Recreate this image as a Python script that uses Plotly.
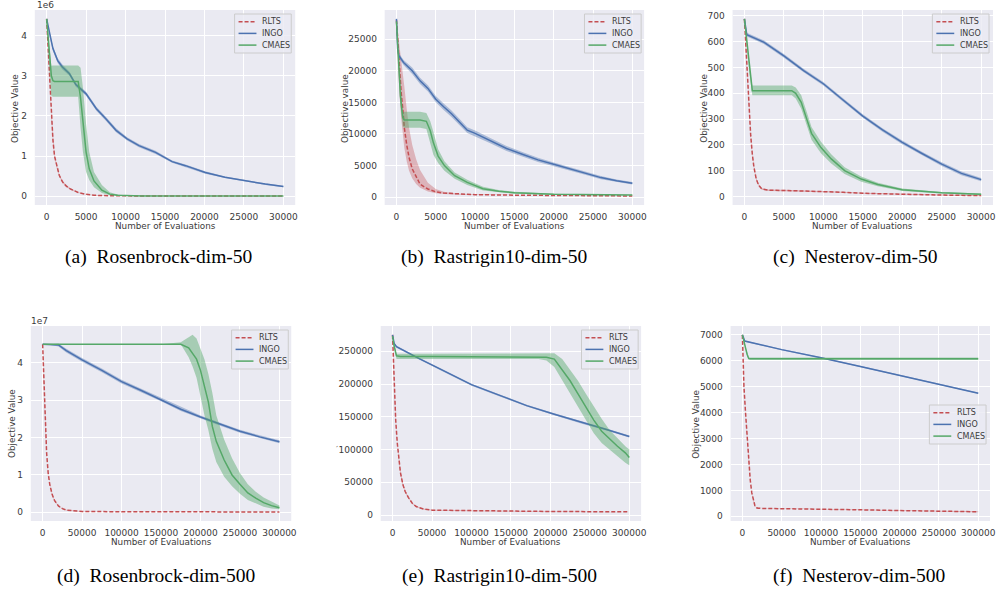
import plotly.graph_objects as go

W, H = 1000, 590
RED, BLUE, GREEN = "#C44E52", "#4C72B0", "#55A868"
NAMES = ["RLTS", "INGO", "CMAES"]

# ---------------- (a) Rosenbrock-dim-50 (values in 1e6) ----------------
A_RLTS_X = [0, 200, 400, 600, 800, 1000, 1300, 1600, 2000, 2500, 3000, 4000, 5000, 6000, 8000, 10000, 15000, 20000, 25000, 30000]
A_RLTS_Y = [4.42, 3.7, 2.95, 2.0, 1.4, 1.0, 0.72, 0.52, 0.36, 0.25, 0.18, 0.09, 0.045, 0.022, 0.008, 0.004, 0.002, 0.001, 0.001, 0.001]
A_RLTS_LO = [4.42, 3.6, 2.85, 1.92, 1.33, 0.95, 0.68, 0.49, 0.33, 0.23, 0.16, 0.08, 0.038, 0.018, 0.006, 0.003, 0.001, 0.0, 0.0, 0.0]
A_RLTS_HI = [4.42, 3.8, 3.05, 2.08, 1.47, 1.05, 0.77, 0.56, 0.39, 0.28, 0.20, 0.10, 0.052, 0.026, 0.010, 0.005, 0.003, 0.002, 0.002, 0.002]
A_INGO_X = [0, 400, 800, 1400, 2000, 2900, 3700, 5000, 6300, 7500, 8800, 10200, 11700, 13800, 15900, 17600, 20100, 22600, 25200, 27700, 30000]
A_INGO_Y = [4.42, 4.01, 3.68, 3.38, 3.22, 3.05, 2.78, 2.55, 2.18, 1.93, 1.64, 1.43, 1.26, 1.09, 0.86, 0.76, 0.59, 0.47, 0.38, 0.30, 0.24]
A_INGO_LO = [4.42, 3.95, 3.62, 3.32, 3.16, 3.00, 2.73, 2.50, 2.13, 1.88, 1.59, 1.39, 1.22, 1.05, 0.83, 0.73, 0.56, 0.45, 0.36, 0.28, 0.22]
A_INGO_HI = [4.42, 4.07, 3.74, 3.44, 3.28, 3.10, 2.83, 2.60, 2.23, 1.98, 1.69, 1.47, 1.30, 1.13, 0.89, 0.79, 0.62, 0.49, 0.40, 0.32, 0.26]
A_CMA_X = [0, 300, 600, 800, 1000, 2000, 3000, 4000, 4300, 4600, 5000, 5400, 6000, 7000, 8000, 9000, 10000, 12000, 15000, 20000, 30000]
A_CMA_Y = [4.42, 3.6, 3.0, 2.88, 2.86, 2.86, 2.86, 2.86, 2.45, 1.9, 1.1, 0.68, 0.38, 0.15, 0.05, 0.02, 0.01, 0.004, 0.002, 0.001, 0.001]
A_CMA_LO = [4.42, 3.3, 2.5, 2.48, 2.48, 2.48, 2.48, 2.48, 1.7, 1.1, 0.6, 0.4, 0.22, 0.08, 0.02, 0.008, 0.004, 0.002, 0.001, 0.0, 0.0]
A_CMA_HI = [4.42, 3.8, 3.25, 3.26, 3.26, 3.26, 3.26, 3.26, 3.2, 2.7, 1.8, 1.1, 0.6, 0.28, 0.1, 0.04, 0.02, 0.008, 0.004, 0.002, 0.002]

# ---------------- (b) Rastrigin10-dim-50 ----------------
B_RLTS_X = [0, 200, 400, 600, 800, 1000, 1300, 1600, 2000, 2500, 3000, 4000, 5000, 6000, 8000, 10000, 15000, 20000, 25000, 30000]
B_RLTS_Y = [28000, 23500, 19800, 16500, 14000, 11000, 8300, 6300, 4500, 3200, 2050, 1300, 850, 650, 480, 400, 320, 260, 220, 200]
B_RLTS_LO = [28000, 20500, 16000, 12500, 9800, 7800, 5700, 4200, 3000, 2100, 1500, 900, 620, 510, 400, 340, 280, 230, 190, 170]
B_RLTS_HI = [28000, 26000, 24000, 22000, 19800, 17500, 14000, 11000, 8300, 6000, 4300, 2300, 1300, 850, 560, 470, 360, 290, 250, 230]
B_INGO_X = [0, 150, 300, 900, 2000, 3000, 4000, 5000, 6000, 7000, 8000, 9000, 10000, 12000, 14000, 16000, 18000, 20000, 22000, 24000, 26000, 28000, 30000]
B_INGO_Y = [28200, 23500, 22400, 21300, 20000, 18400, 17200, 15500, 14300, 13200, 11900, 10600, 10100, 8900, 7700, 6800, 5900, 5200, 4500, 3800, 3100, 2600, 2200]
B_INGO_LO = [28200, 23100, 22000, 20900, 19500, 17900, 16700, 15000, 13800, 12700, 11400, 10150, 9650, 8500, 7300, 6450, 5550, 4900, 4200, 3550, 2850, 2400, 2000]
B_INGO_HI = [28200, 23900, 22800, 21700, 20500, 18900, 17700, 16000, 14800, 13700, 12400, 11050, 10550, 9300, 8100, 7150, 6250, 5500, 4800, 4050, 3350, 2800, 2400]
B_CMA_X = [0, 250, 500, 800, 1000, 2000, 3000, 3800, 4300, 4700, 5300, 6100, 7400, 9000, 11000, 13000, 15000, 20000, 25000, 30000]
B_CMA_Y = [27800, 21800, 16000, 12600, 12200, 12200, 12200, 12000, 10500, 8600, 6500, 5000, 3400, 2350, 1350, 950, 700, 450, 380, 350]
B_CMA_LO = [27800, 20500, 14500, 11200, 11000, 11000, 11000, 10800, 8500, 6700, 5400, 4200, 2900, 1950, 1050, 750, 550, 370, 320, 300]
B_CMA_HI = [27800, 23000, 17500, 13500, 13500, 13500, 13500, 13300, 12000, 10300, 7600, 5700, 3900, 2750, 1650, 1150, 850, 530, 440, 400]

# ---------------- (c) Nesterov-dim-50 ----------------
C_RLTS_X = [0, 200, 400, 600, 800, 1000, 1200, 1500, 1800, 2200, 3000, 5000, 7500, 10000, 12500, 15000, 20000, 25000, 30000]
C_RLTS_Y = [688, 560, 440, 340, 235, 165, 115, 68, 45, 30, 25, 24, 22, 20, 17, 13, 9, 6, 4]
C_RLTS_LO = [688, 552, 432, 332, 227, 158, 109, 63, 41, 27, 22, 21, 19, 18, 15, 11, 7, 4, 2]
C_RLTS_HI = [688, 568, 448, 348, 243, 172, 121, 73, 49, 33, 28, 27, 25, 22, 19, 15, 11, 8, 6]
C_INGO_X = [0, 300, 2500, 5000, 7500, 10000, 12500, 15000, 17500, 20000, 22500, 25000, 27500, 30000]
C_INGO_Y = [688, 627, 597, 545, 488, 437, 374, 312, 258, 210, 167, 126, 90, 66]
C_INGO_LO = [688, 620, 590, 538, 481, 430, 367, 305, 251, 203, 160, 119, 83, 60]
C_INGO_HI = [688, 634, 604, 552, 495, 444, 381, 319, 265, 217, 174, 133, 97, 72]
C_CMA_X = [0, 300, 600, 1000, 3000, 6000, 6500, 7200, 7900, 8500, 9700, 11000, 12700, 14800, 16900, 20000, 25000, 30000]
C_CMA_Y = [688, 600, 500, 410, 410, 410, 400, 365, 300, 245, 190, 146, 101, 68, 47, 27, 15, 9]
C_CMA_LO = [688, 585, 485, 392, 392, 392, 380, 340, 272, 220, 168, 128, 88, 58, 40, 22, 12, 6]
C_CMA_HI = [688, 615, 515, 430, 430, 430, 422, 392, 328, 270, 212, 164, 114, 78, 54, 32, 18, 12]

# ---------------- (d) Rosenbrock-dim-500 (values in 1e7) ----------------
D_RLTS_X = [0, 1000, 2000, 3000, 4000, 5000, 7000, 9000, 12000, 15000, 20000, 25000, 30000, 40000, 50000, 100000, 200000, 300000]
D_RLTS_Y = [4.5, 3.8, 3.1, 2.5, 2.0, 1.6, 1.05, 0.75, 0.48, 0.32, 0.17, 0.10, 0.06, 0.035, 0.025, 0.015, 0.01, 0.01]
D_RLTS_LO = [4.5, 3.75, 3.05, 2.45, 1.96, 1.56, 1.02, 0.72, 0.46, 0.30, 0.16, 0.09, 0.05, 0.03, 0.02, 0.01, 0.005, 0.005]
D_RLTS_HI = [4.5, 3.85, 3.15, 2.55, 2.04, 1.64, 1.08, 0.78, 0.50, 0.34, 0.18, 0.11, 0.07, 0.04, 0.03, 0.02, 0.015, 0.015]
D_INGO_X = [0, 10000, 20000, 30000, 50000, 75000, 100000, 125000, 150000, 175000, 200000, 225000, 250000, 275000, 300000]
D_INGO_Y = [4.5, 4.5, 4.48, 4.33, 4.08, 3.80, 3.50, 3.26, 3.02, 2.76, 2.55, 2.36, 2.17, 2.02, 1.89]
D_INGO_LO = [4.5, 4.48, 4.44, 4.28, 4.03, 3.75, 3.45, 3.21, 2.97, 2.71, 2.51, 2.32, 2.13, 1.98, 1.85]
D_INGO_HI = [4.5, 4.52, 4.52, 4.38, 4.13, 3.85, 3.55, 3.31, 3.07, 2.81, 2.59, 2.40, 2.21, 2.06, 1.93]
D_CMA_X = [0, 50000, 100000, 150000, 175000, 185000, 190000, 195000, 200000, 205000, 210000, 215000, 220000, 230000, 240000, 250000, 260000, 270000, 280000, 290000, 300000]
D_CMA_Y = [4.5, 4.5, 4.5, 4.5, 4.5, 4.4, 4.25, 4.1, 3.8, 3.4, 2.95, 2.3, 1.9, 1.4, 1.0, 0.75, 0.52, 0.38, 0.26, 0.18, 0.12]
D_CMA_LO = [4.5, 4.5, 4.5, 4.5, 4.5, 4.15, 3.9, 3.6, 3.1, 2.6, 2.2, 1.7, 1.35, 0.95, 0.7, 0.5, 0.33, 0.23, 0.15, 0.1, 0.08]
D_CMA_HI = [4.5, 4.5, 4.5, 4.5, 4.55, 4.68, 4.75, 4.65, 4.4, 4.1, 3.7, 3.2, 2.6, 1.95, 1.45, 1.05, 0.75, 0.55, 0.4, 0.28, 0.18]

# ---------------- (e) Rastrigin10-dim-500 ----------------
E_RLTS_X = [0, 1000, 2000, 3000, 4000, 6000, 8000, 10000, 13000, 16000, 20000, 25000, 30000, 40000, 50000, 100000, 200000, 300000]
E_RLTS_Y = [275000, 235000, 195000, 165000, 145000, 110000, 85000, 65000, 47000, 36000, 27000, 18000, 13000, 9000, 7500, 6500, 5500, 5000]
E_RLTS_LO = [275000, 232000, 191000, 161000, 141000, 106000, 81000, 62000, 44500, 34000, 25500, 17000, 12000, 8300, 6900, 6000, 5000, 4500]
E_RLTS_HI = [275000, 238000, 199000, 169000, 149000, 114000, 89000, 68000, 49500, 38000, 28500, 19000, 14000, 9700, 8100, 7000, 6000, 5500]
E_INGO_X = [0, 2000, 5000, 20000, 35000, 60000, 100000, 135000, 170000, 205000, 240000, 270000, 300000]
E_INGO_Y = [275000, 262000, 257000, 247000, 238000, 223000, 199000, 183000, 167000, 154000, 141000, 131000, 120000]
E_INGO_LO = [275000, 260500, 255500, 245500, 236500, 221500, 197500, 181500, 165500, 152500, 139500, 129500, 118500]
E_INGO_HI = [275000, 263500, 258500, 248500, 239500, 224500, 200500, 184500, 168500, 155500, 142500, 132500, 121500]
E_CMA_X = [0, 2000, 5000, 10000, 50000, 100000, 150000, 185000, 195000, 205000, 215000, 225000, 235000, 245000, 255000, 265000, 275000, 285000, 295000, 300000]
E_CMA_Y = [273000, 258000, 243000, 242000, 242000, 242000, 242000, 242000, 241000, 238000, 222000, 205000, 185000, 165000, 145000, 128000, 116000, 105000, 95000, 88000]
E_CMA_LO = [273000, 256000, 238000, 238000, 238000, 238000, 238000, 238000, 236000, 226000, 205000, 185000, 165000, 145000, 125000, 110000, 100000, 90000, 80000, 76000]
E_CMA_HI = [273000, 260000, 246000, 246000, 246000, 246000, 246000, 246000, 246000, 247000, 238000, 222000, 205000, 185000, 165000, 147000, 130000, 117000, 105000, 100000]

# ---------------- (f) Nesterov-dim-500 ----------------
F_RLTS_X = [0, 2000, 4000, 6000, 8000, 10000, 12000, 14000, 16000, 18000, 20000, 30000, 50000, 100000, 150000, 200000, 250000, 300000]
F_RLTS_Y = [7000, 5000, 4000, 3000, 2100, 1400, 900, 580, 400, 330, 310, 300, 295, 280, 250, 220, 200, 175]
F_RLTS_LO = [7000, 4950, 3950, 2950, 2060, 1370, 875, 560, 385, 315, 295, 285, 280, 265, 235, 205, 185, 160]
F_RLTS_HI = [7000, 5050, 4050, 3050, 2140, 1430, 925, 600, 415, 345, 325, 315, 310, 295, 265, 235, 215, 190]
F_INGO_X = [0, 3000, 50000, 100000, 150000, 200000, 250000, 300000]
F_INGO_Y = [7000, 6760, 6430, 6120, 5780, 5430, 5090, 4750]
F_INGO_LO = [7000, 6735, 6405, 6095, 5755, 5405, 5065, 4725]
F_INGO_HI = [7000, 6785, 6455, 6145, 5805, 5455, 5115, 4775]
F_CMA_X = [0, 2000, 4000, 6000, 8000, 10000, 50000, 100000, 200000, 300000]
F_CMA_Y = [7000, 6800, 6500, 6250, 6090, 6080, 6080, 6080, 6080, 6080]
F_CMA_LO = [7000, 6770, 6460, 6200, 6040, 6030, 6030, 6030, 6030, 6030]
F_CMA_HI = [7000, 6830, 6540, 6300, 6140, 6130, 6130, 6130, 6130, 6130]

TOP_XTICKS = [0, 5000, 10000, 15000, 20000, 25000, 30000]
BOT_XTICKS = [0, 50000, 100000, 150000, 200000, 250000, 300000]
A_YTICKS = [0, 1, 2, 3, 4]
B_YTICKS = [0, 5000, 10000, 15000, 20000, 25000]
C_YTICKS = [0, 100, 200, 300, 400, 500, 600, 700]
D_YTICKS = [0, 1, 2, 3, 4]
E_YTICKS = [0, 50000, 100000, 150000, 200000, 250000]
F_YTICKS = [0, 1000, 2000, 3000, 4000, 5000, 6000, 7000]

NB = "\u00a0 "
CAPTIONS = ["(a)" + NB + "Rosenbrock-dim-50", "(b)" + NB + "Rastrigin10-dim-50", "(c)" + NB + "Nesterov-dim-50",
            "(d)" + NB + "Rosenbrock-dim-500", "(e)" + NB + "Rastrigin10-dim-500", "(f)" + NB + "Nesterov-dim-500"]
YTITLES = ["Objective Value", "Objective value", "Objective Value", "Objective Value", "`", "Objective Value"]

panels = [
    dict(data=[(A_RLTS_X, A_RLTS_Y, A_RLTS_LO, A_RLTS_HI), (A_INGO_X, A_INGO_Y, A_INGO_LO, A_INGO_HI), (A_CMA_X, A_CMA_Y, A_CMA_LO, A_CMA_HI)],
         xd=(35, 297), yd=(10, 205), xt=TOP_XTICKS, yt=A_YTICKS, leg=(293, 14), cap=(159, 257), ytx=(15, 108), off="1e6", offpos=(46, 5)),
    dict(data=[(B_RLTS_X, B_RLTS_Y, B_RLTS_LO, B_RLTS_HI), (B_INGO_X, B_INGO_Y, B_INGO_LO, B_INGO_HI), (B_CMA_X, B_CMA_Y, B_CMA_LO, B_CMA_HI)],
         xd=(387, 648), yd=(10, 205), xt=TOP_XTICKS, yt=B_YTICKS, leg=(645, 14), cap=(497, 257), ytx=(347, 108), off=None),
    dict(data=[(C_RLTS_X, C_RLTS_Y, C_RLTS_LO, C_RLTS_HI), (C_INGO_X, C_INGO_Y, C_INGO_LO, C_INGO_HI), (C_CMA_X, C_CMA_Y, C_CMA_LO, C_CMA_HI)],
         xd=(737, 999), yd=(10, 205), xt=TOP_XTICKS, yt=C_YTICKS, leg=(995, 14), cap=(861, 257), ytx=(708, 108), off=None),
    dict(data=[(D_RLTS_X, D_RLTS_Y, D_RLTS_LO, D_RLTS_HI), (D_INGO_X, D_INGO_Y, D_INGO_LO, D_INGO_HI), (D_CMA_X, D_CMA_Y, D_CMA_LO, D_CMA_HI)],
         xd=(31, 293), yd=(326, 521), xt=BOT_XTICKS, yt=D_YTICKS, leg=(290, 330), cap=(157, 576), ytx=(12, 423), off="1e7", offpos=(40, 321)),
    dict(data=[(E_RLTS_X, E_RLTS_Y, E_RLTS_LO, E_RLTS_HI), (E_INGO_X, E_INGO_Y, E_INGO_LO, E_INGO_HI), (E_CMA_X, E_CMA_Y, E_CMA_LO, E_CMA_HI)],
         xd=(383, 645), yd=(326, 521), xt=BOT_XTICKS, yt=E_YTICKS, leg=(642, 330), cap=(503, 576), ytx=(342, 446), off=None),
    dict(data=[(F_RLTS_X, F_RLTS_Y, F_RLTS_LO, F_RLTS_HI), (F_INGO_X, F_INGO_Y, F_INGO_LO, F_INGO_HI), (F_CMA_X, F_CMA_Y, F_CMA_LO, F_CMA_HI)],
         xd=(735, 996), yd=(326, 521), xt=BOT_XTICKS, yt=F_YTICKS, leg=(992, 405), cap=(864, 576), ytx=(700, 424), off=None),
]

COLORS = [RED, BLUE, GREEN]
DASHES = ["4px,2px", "solid", "solid"]
BANDS = ["rgba(196,78,82,0.35)", "rgba(76,114,176,0.4)", "rgba(85,168,104,0.45)"]

TXT = "#3a3a3a"
TICKFONT = dict(family="DejaVu Sans", size=9, color=TXT)

fig = go.Figure()
layout = dict(width=W, height=H, margin=dict(l=0, r=0, t=0, b=0),
              paper_bgcolor="white", plot_bgcolor="#EAEAF2", showlegend=False)
annotations = []
shapes = []


def pad(lo, hi):
    s = hi - lo
    return [lo - 0.05 * s, hi + 0.05 * s]


def px(x, y):
    return x / W, 1 - y / H


for i, p in enumerate(panels, start=1):
    xs = "x" if i == 1 else f"x{i}"
    ys = "y" if i == 1 else f"y{i}"
    xk = "xaxis" if i == 1 else f"xaxis{i}"
    yk = "yaxis" if i == 1 else f"yaxis{i}"

    allx, ally = [], []
    for j, (x, y, lo, hi) in enumerate(p["data"]):
        allx += x
        ally += lo + hi
        fig.add_trace(go.Scatter(x=list(x) + list(x)[::-1], y=list(hi) + list(lo)[::-1],
                                 fill="toself", fillcolor=BANDS[j], line=dict(width=0),
                                 mode="lines", hoverinfo="skip", showlegend=False,
                                 xaxis=xs, yaxis=ys))
        fig.add_trace(go.Scatter(x=x, y=y, mode="lines", name=NAMES[j],
                                 line=dict(color=COLORS[j], width=1.5, dash=DASHES[j]),
                                 xaxis=xs, yaxis=ys, showlegend=False))

    layout[xk] = dict(domain=[p["xd"][0] / W, p["xd"][1] / W], anchor=ys,
                      range=pad(min(allx), max(allx)), tickvals=p["xt"], tickformat="d",
                      showgrid=True, gridcolor="white", gridwidth=1, zeroline=False,
                      showline=False, ticks="outside", ticklen=3, tickcolor="rgba(0,0,0,0)",
                      tickfont=TICKFONT)
    layout[yk] = dict(domain=[1 - p["yd"][1] / H, 1 - p["yd"][0] / H], anchor=xs,
                      range=pad(min(ally), max(ally)), tickvals=p["yt"], tickformat="d",
                      showgrid=True, gridcolor="white", gridwidth=1, zeroline=False,
                      showline=False, ticks="outside", ticklen=5, tickcolor="rgba(0,0,0,0)",
                      tickfont=TICKFONT)

    # legend (drawn by hand so that its size matches)
    R, T = p["leg"]
    bx0, by0 = px(R - 57, T)
    bx1, by1 = px(R, T + 39)
    shapes.append(dict(type="rect", xref="paper", yref="paper", x0=bx0, x1=bx1, y0=by1, y1=by0,
                       fillcolor="rgba(234,234,242,0.8)", line=dict(color="#CCCCCC", width=1), layer="above"))
    for j in range(3):
        yy = T + 7.7 + 11.7 * j
        lx0, ly = px(R - 53, yy)
        lx1, _ = px(R - 35, yy)
        shapes.append(dict(type="line", xref="paper", yref="paper", x0=lx0, x1=lx1, y0=ly, y1=ly,
                           line=dict(color=COLORS[j], width=1.5, dash=DASHES[j]), layer="above"))
        tx, _ = px(R - 31, yy)
        annotations.append(dict(text=NAMES[j], x=tx, y=ly, xref="paper", yref="paper", showarrow=False,
                                xanchor="left", yanchor="middle",
                                font=dict(family="DejaVu Sans", size=8, color=TXT)))

    xc = (p["xd"][0] + p["xd"][1]) / 2
    xty = p["yd"][1] + 21
    annotations.append(dict(text="Number of Evaluations", x=xc / W, y=1 - xty / H, xref="paper", yref="paper",
                            showarrow=False, font=dict(family="DejaVu Sans", size=8.8, color=TXT),
                            xanchor="center", yanchor="middle"))
    annotations.append(dict(text=YTITLES[i - 1], x=p["ytx"][0] / W, y=1 - p["ytx"][1] / H, xref="paper", yref="paper",
                            showarrow=False, textangle=-90,
                            font=dict(family="DejaVu Sans", size=8.8 if YTITLES[i - 1] != "`" else 7, color=TXT),
                            xanchor="center", yanchor="middle"))
    annotations.append(dict(text=CAPTIONS[i - 1], x=p["cap"][0] / W, y=1 - p["cap"][1] / H, xref="paper", yref="paper",
                            showarrow=False, font=dict(family="Liberation Serif", size=19.5, color="black"),
                            xanchor="center", yanchor="middle"))
    if p["off"]:
        annotations.append(dict(text=p["off"], x=p["offpos"][0] / W, y=1 - p["offpos"][1] / H, xref="paper", yref="paper",
                                showarrow=False, font=dict(family="DejaVu Sans", size=9, color=TXT),
                                xanchor="center", yanchor="middle"))

layout["annotations"] = annotations
layout["shapes"] = shapes
fig.update_layout(**layout)
fig.write_html("out.html", config={"displayModeBar": False},
               post_script="document.body.style.margin='0';document.body.style.padding='0';")
